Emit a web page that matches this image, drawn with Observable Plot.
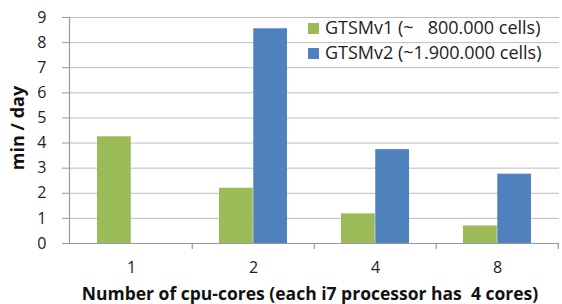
<!DOCTYPE html>
<html><head><meta charset="utf-8">
<script src="https://cdn.jsdelivr.net/npm/d3@7"></script>
<script src="https://cdn.jsdelivr.net/npm/@observablehq/plot@0.6"></script>
<style>
body{margin:0;background:#fff;font-family:"Open Sans",sans-serif;}
#wrap{position:relative;width:562px;height:304px;}
#legend{position:absolute;left:308px;top:15px;font-size:18px;color:#222;line-height:25px;white-space:pre;}
#legend .sw{display:inline-block;width:11px;height:11px;margin-right:6px;}
#xlabel{position:absolute;left:60px;width:500px;top:281px;text-align:center;font-weight:bold;font-size:17.5px;color:#111;white-space:pre;}
#ylabel{position:absolute;left:17px;top:128px;transform:translate(-50%,-50%) rotate(-90deg);font-weight:bold;font-size:18px;color:#111;white-space:nowrap;}
</style></head>
<body><div id="wrap"><div id="legend"></div><div id="xlabel"></div><div id="ylabel"></div></div>
<script>
const cores = ["1","2","4","8"];
const seriesNames = ["GTSMv1 (~   800.000 cells)", "GTSMv2 (~1.900.000 cells)"];
const v1 = [4.25, 2.2, 1.18, 0.7];
const v2 = [null, 8.55, 3.74, 2.76];
const colors = ["#9BBB59", "#4F81BD"];
const yTicks = [0,1,2,3,4,5,6,7,8,9];
const xTitle = "Number of cpu-cores (each i7 processor has  4 cores)";
const yTitle = "min / day";

const d1 = cores.map((c,i)=>({c, v:v1[i]})).filter(d=>d.v!=null);
const d2 = cores.map((c,i)=>({c, v:v2[i]})).filter(d=>d.v!=null);

const W = 562, mL = 69, mR = 3;
const bw = (W - mL - mR) / cores.length;
const pad = 27, barW = (bw - 2*pad)/2;

const chart = Plot.plot({
  width: W, height: 304,
  marginLeft: mL, marginRight: mR, marginTop: 17, marginBottom: 61,
  style: {fontFamily: "'Open Sans', sans-serif", fontSize: "16px", color: "#222", background: "transparent"},
  x: {domain: cores, padding: 0, label: null},
  y: {domain: [0, 9], label: null},
  marks: [
    Plot.gridY(yTicks, {stroke: "#bdbdbd", strokeOpacity: 1, strokeWidth: 1}),
    Plot.barY(d1, {x: "c", y: "v", fill: colors[0], insetLeft: pad, insetRight: pad + barW}),
    Plot.barY(d2, {x: "c", y: "v", fill: colors[1], insetLeft: pad + barW, insetRight: pad}),
    Plot.ruleY([0], {stroke: "#999", strokeWidth: 1.2}),
    Plot.frame({anchor: "left", stroke: "#999", strokeWidth: 1.2}),
    Plot.axisY(yTicks, {tickSize: 7, tickPadding: 16, stroke: "#999", fontSize: 16, label: null}),
    Plot.axisX(cores, {tickSize: 0, tickPadding: 18, fontSize: 16, label: null}),
    Plot.ruleX(cores.slice(1), {x: d=>d, dx: -bw/2, y1: 0, y2: 0, insetBottom: -6, stroke: "#999", strokeWidth: 1.2}),
    Plot.ruleX([cores[cores.length-1]], {x: d=>d, dx: bw/2 - 0.5, y1: 0, y2: 0, insetBottom: -6, stroke: "#999", strokeWidth: 1.2}),
  ]
});
document.getElementById("wrap").prepend(chart);

document.getElementById("xlabel").textContent = xTitle;
document.getElementById("ylabel").textContent = yTitle;
const leg = document.getElementById("legend");
seriesNames.forEach((n,i)=>{
  const row = document.createElement("div");
  const sw = document.createElement("span");
  sw.className = "sw"; sw.style.background = colors[i];
  row.appendChild(sw);
  row.appendChild(document.createTextNode(n));
  leg.appendChild(row);
});
</script>
</body></html>
